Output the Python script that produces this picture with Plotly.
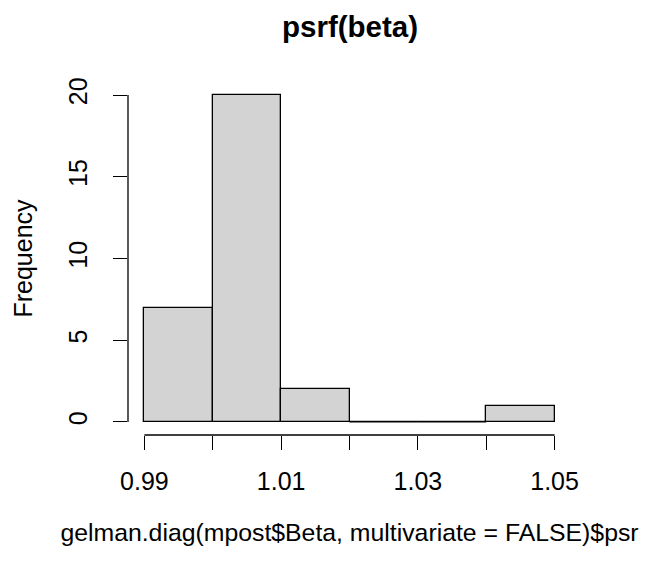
import plotly.graph_objects as go

bin_edges = [0.99, 1.00, 1.01, 1.02, 1.03, 1.04, 1.05]
counts = [7, 20, 2, 0, 0, 1]
x_tick_vals = [0.99, 1.00, 1.01, 1.02, 1.03, 1.04, 1.05]
x_tick_text = ["0.99", "", "1.01", "", "1.03", "", "1.05"]
y_tick_vals = [0, 5, 10, 15, 20]

FONT = "Liberation Sans, Arial, sans-serif"
centers = [(a + b) / 2 for a, b in zip(bin_edges[:-1], bin_edges[1:])]
widths = [b - a for a, b in zip(bin_edges[:-1], bin_edges[1:])]

fig = go.Figure()
fig.add_trace(go.Bar(
    x=centers, y=counts, width=widths,
    marker=dict(color="#D3D3D3", line=dict(color="black", width=1.3)),
    hoverinfo="skip",
))
# zero-height bins: R still draws their outline along the baseline
for a, b, c in zip(bin_edges[:-1], bin_edges[1:], counts):
    if c == 0:
        fig.add_trace(go.Scatter(x=[a, b], y=[0, 0], mode="lines",
                                 line=dict(color="black", width=1.3),
                                 hoverinfo="skip"))

xr = [bin_edges[0] - 0.04 * (bin_edges[-1] - bin_edges[0]),
      bin_edges[-1] + 0.04 * (bin_edges[-1] - bin_edges[0])]
ymax = max(y_tick_vals)
yr = [-0.04 * ymax, ymax * 1.04]

# page has an 8px body margin, so the figure is sized to fit the window
fig.update_layout(
    width=640, height=553,
    margin=dict(l=120, r=77, t=74, b=126),
    plot_bgcolor="white", paper_bgcolor="white",
    showlegend=False,
    bargap=0,
    font=dict(family=FONT, color="black", size=25),
    title=dict(text="<b>psrf(beta)</b>", x=342 / 640, xanchor="center",
               y=1 - 19 / 553, yanchor="middle",
               font=dict(size=29.5, family=FONT, color="black")),
    xaxis=dict(range=xr, tickmode="array", tickvals=x_tick_vals, ticktext=x_tick_text,
               ticks="outside", ticklen=14, tickwidth=1.3, tickcolor="black",
               showgrid=False, zeroline=False, showline=False,
               tickfont=dict(size=25), ticklabelstandoff=10,
               title=dict(text="gelman.diag(mpost$Beta, multivariate = FALSE)$psr",
                          font=dict(size=24.8), standoff=29)),
    yaxis=dict(range=yr, tickmode="array", tickvals=y_tick_vals,
               ticks="outside", ticklen=14, tickwidth=1.3, tickcolor="black",
               showgrid=False, zeroline=False, showline=False,
               tickangle=-90, tickfont=dict(size=25), ticklabelstandoff=16,
               title=dict(text="Frequency", font=dict(size=25), standoff=24)),
)
fig.add_shape(type="line", xref="x", yref="paper", x0=x_tick_vals[0], x1=x_tick_vals[-1],
              y0=0, y1=0, line=dict(color="black", width=1.3))
fig.add_shape(type="line", xref="paper", yref="y", x0=0, x1=0,
              y0=y_tick_vals[0], y1=y_tick_vals[-1], line=dict(color="black", width=1.3))

fig.write_html("out.html")
